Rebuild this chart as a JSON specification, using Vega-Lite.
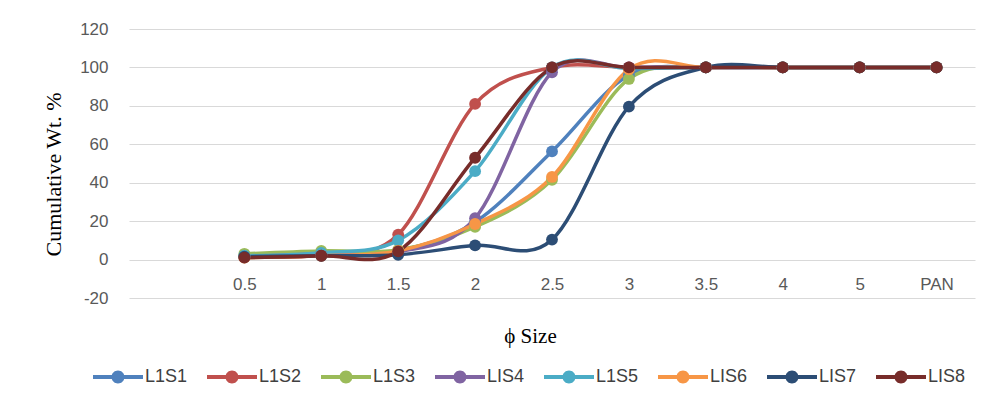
{
  "$schema": "https://vega.github.io/schema/vega-lite/v6.json",
  "autosize": "none",
  "width": 846,
  "height": 269,
  "padding": {"left": 129, "top": 29, "right": 15, "bottom": 111},
  "background": "white",
  "config": {
    "view": {"stroke": null},
    "font": "Liberation Sans"
  },
  "data": {
    "values": [
      {"x": "0.5", "s": "L1S1", "y": 2}, {"x": "1", "s": "L1S1", "y": 3}, {"x": "1.5", "s": "L1S1", "y": 4.5}, {"x": "2", "s": "L1S1", "y": 19.5}, {"x": "2.5", "s": "L1S1", "y": 56.3}, {"x": "3", "s": "L1S1", "y": 96}, {"x": "3.5", "s": "L1S1", "y": 100}, {"x": "4", "s": "L1S1", "y": 100}, {"x": "5", "s": "L1S1", "y": 100}, {"x": "PAN", "s": "L1S1", "y": 100},
      {"x": "0.5", "s": "L1S2", "y": 1.5}, {"x": "1", "s": "L1S2", "y": 2.5}, {"x": "1.5", "s": "L1S2", "y": 13}, {"x": "2", "s": "L1S2", "y": 81}, {"x": "2.5", "s": "L1S2", "y": 100}, {"x": "3", "s": "L1S2", "y": 100}, {"x": "3.5", "s": "L1S2", "y": 100}, {"x": "4", "s": "L1S2", "y": 100}, {"x": "5", "s": "L1S2", "y": 100}, {"x": "PAN", "s": "L1S2", "y": 100},
      {"x": "0.5", "s": "L1S3", "y": 3}, {"x": "1", "s": "L1S3", "y": 4.5}, {"x": "1.5", "s": "L1S3", "y": 5}, {"x": "2", "s": "L1S3", "y": 17}, {"x": "2.5", "s": "L1S3", "y": 41.5}, {"x": "3", "s": "L1S3", "y": 94}, {"x": "3.5", "s": "L1S3", "y": 100}, {"x": "4", "s": "L1S3", "y": 100}, {"x": "5", "s": "L1S3", "y": 100}, {"x": "PAN", "s": "L1S3", "y": 100},
      {"x": "0.5", "s": "LIS4", "y": 1.5}, {"x": "1", "s": "LIS4", "y": 3}, {"x": "1.5", "s": "LIS4", "y": 4}, {"x": "2", "s": "LIS4", "y": 21.5}, {"x": "2.5", "s": "LIS4", "y": 97.5}, {"x": "3", "s": "LIS4", "y": 100}, {"x": "3.5", "s": "LIS4", "y": 100}, {"x": "4", "s": "LIS4", "y": 100}, {"x": "5", "s": "LIS4", "y": 100}, {"x": "PAN", "s": "LIS4", "y": 100},
      {"x": "0.5", "s": "L1S5", "y": 2}, {"x": "1", "s": "L1S5", "y": 3.5}, {"x": "1.5", "s": "L1S5", "y": 10}, {"x": "2", "s": "L1S5", "y": 46}, {"x": "2.5", "s": "L1S5", "y": 100}, {"x": "3", "s": "L1S5", "y": 99.5}, {"x": "3.5", "s": "L1S5", "y": 100}, {"x": "4", "s": "L1S5", "y": 100}, {"x": "5", "s": "L1S5", "y": 100}, {"x": "PAN", "s": "L1S5", "y": 100},
      {"x": "0.5", "s": "LIS6", "y": 1}, {"x": "1", "s": "LIS6", "y": 2}, {"x": "1.5", "s": "LIS6", "y": 4.5}, {"x": "2", "s": "LIS6", "y": 18.5}, {"x": "2.5", "s": "LIS6", "y": 43}, {"x": "3", "s": "LIS6", "y": 99}, {"x": "3.5", "s": "LIS6", "y": 100}, {"x": "4", "s": "LIS6", "y": 100}, {"x": "5", "s": "LIS6", "y": 100}, {"x": "PAN", "s": "LIS6", "y": 100},
      {"x": "0.5", "s": "LIS7", "y": 1.5}, {"x": "1", "s": "LIS7", "y": 2}, {"x": "1.5", "s": "LIS7", "y": 2.5}, {"x": "2", "s": "LIS7", "y": 7.4}, {"x": "2.5", "s": "LIS7", "y": 10.4}, {"x": "3", "s": "LIS7", "y": 79.6}, {"x": "3.5", "s": "LIS7", "y": 100}, {"x": "4", "s": "LIS7", "y": 100}, {"x": "5", "s": "LIS7", "y": 100}, {"x": "PAN", "s": "LIS7", "y": 100},
      {"x": "0.5", "s": "LIS8", "y": 1}, {"x": "1", "s": "LIS8", "y": 2}, {"x": "1.5", "s": "LIS8", "y": 4.3}, {"x": "2", "s": "LIS8", "y": 53}, {"x": "2.5", "s": "LIS8", "y": 100}, {"x": "3", "s": "LIS8", "y": 100}, {"x": "3.5", "s": "LIS8", "y": 100}, {"x": "4", "s": "LIS8", "y": 100}, {"x": "5", "s": "LIS8", "y": 100}, {"x": "PAN", "s": "LIS8", "y": 100}
    ]
  },
  "encoding": {
    "x": {
      "field": "x",
      "type": "ordinal",
      "sort": null,
      "scale": {"type": "point", "domain": ["", "0.5", "1", "1.5", "2", "2.5", "3", "3.5", "4", "5", "PAN"], "padding": 0.5},
      "axis": {
        "title": "ϕ Size",
        "titleFont": "Liberation Serif",
        "titleFontSize": 21,
        "titleFontWeight": "normal",
        "titleColor": "#000000",
        "titleX": 401,
        "titlePadding": 33,
        "offset": -38,
        "domain": false,
        "ticks": false,
        "grid": false,
        "labelAngle": 0,
        "labelFontSize": 17,
        "labelColor": "#595959",
        "labelPadding": 16
      }
    },
    "y": {
      "field": "y",
      "type": "quantitative",
      "scale": {"domain": [-20, 120], "nice": false, "zero": false},
      "axis": {
        "title": "Cumulative Wt. %",
        "titleFont": "Liberation Serif",
        "titleFontSize": 22,
        "titleFontWeight": "normal",
        "titleColor": "#000000",
        "titleX": -76,
        "titleY": 145,
        "titleAngle": -90,
        "titleAlign": "center",
        "titleBaseline": "middle",
        "values": [-20, 0, 20, 40, 60, 80, 100, 120],
        "labelExpr": "replace(datum.label, '−', '-')",
        "domain": false,
        "ticks": false,
        "grid": true,
        "gridColor": "#D9D9D9",
        "gridWidth": 1,
        "labelFontSize": 17,
        "labelColor": "#595959",
        "labelPadding": 21
      }
    },
    "color": {
      "field": "s",
      "type": "nominal",
      "sort": null,
      "scale": {
        "domain": ["L1S1", "L1S2", "L1S3", "LIS4", "L1S5", "LIS6", "LIS7", "LIS8"],
        "range": ["#4F81BD", "#C0504D", "#9BBB59", "#8064A2", "#4BACC6", "#F79646", "#2C4D75", "#772C2A"]
      },
      "legend": {
        "title": null,
        "orient": "none",
        "legendX": -36,
        "legendY": 323,
        "direction": "horizontal",
        "columns": 8,
        "columnPadding": 19,
        "symbolType": "M-1,-0.08L1,-0.08L1,0.08L-1,0.08ZM0.26,0A0.26,0.26,0,1,1,-0.26,0A0.26,0.26,0,1,1,0.26,0Z",
        "symbolSize": 2500,
        "symbolStrokeWidth": 0,
        "labelFontSize": 18,
        "labelColor": "#404040",
        "labelOffset": 2,
        "encode": {
          "symbols": {"update": {"fill": {"scale": "color", "field": "value"}, "stroke": {"value": "transparent"}, "strokeWidth": {"value": 0}, "opacity": {"value": 1}}}
        }
      }
    }
  },
  "layer": [
    {"mark": {"type": "line", "interpolate": "cardinal", "strokeWidth": 3.5}},
    {"mark": {"type": "point", "shape": "circle", "filled": true, "size": 140, "opacity": 1}}
  ]
}
